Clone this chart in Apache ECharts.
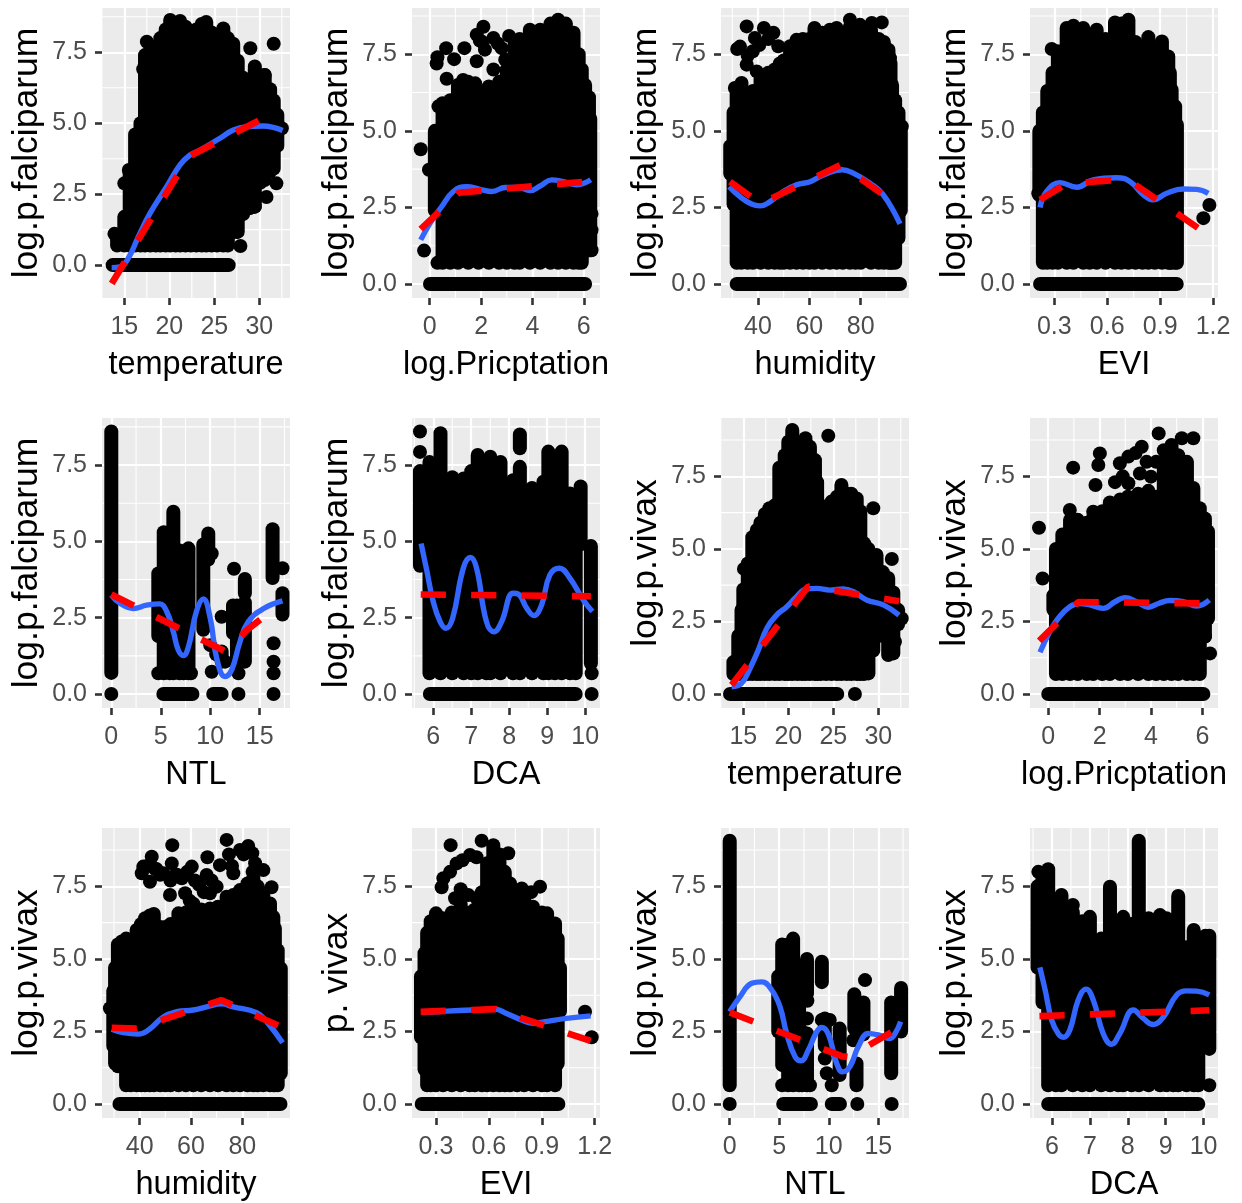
<!DOCTYPE html>
<html><head><meta charset="utf-8">
<script src="https://cdn.jsdelivr.net/npm/echarts@6/dist/echarts.min.js"></script>
<style>html,body{margin:0;background:#fff}#c{width:1242px;height:1203px}</style></head>
<body><div id="c"></div>
<script>
// ---- tick values
const yTicks=[0,2.5,5,7.5], yMinor=[1.25,3.75,6.25,8.75];
const tempTicks=[15,20,25,30], tempMinor=[12.5,17.5,22.5,27.5,32.5];
const rainTicks=[0,2,4,6], rainMinor=[1,3,5];
const humTicks=[40,60,80], humMinor=[30,50,70,90];
const eviTicks=[0.3,0.6,0.9,1.2], eviMinor=[0.45,0.75,1.05];
const ntlTicks=[0,5,10,15], ntlMinor=[2.5,7.5,12.5,17.5];
const dcaTicks=[6,7,8,9,10], dcaMinor=[5.5,6.5,7.5,8.5,9.5];

// ---- panel 1: temperature / falciparum
const p1Cloud=[[14.2,.69,1],[15,.69,1.7],[15.6,.69,3.3],[16.2,.69,4.6],[16.8,.69,5],[17.3,.69,7.4],[17.9,.69,7.6],[18.5,.69,7.7],[19,.69,8],[19.6,.69,8.3],[20.1,.69,8.64],[20.7,.69,8.5],[21.2,.69,8.6],[21.8,.69,8.4],[22.4,.69,8.2],[23,.69,8.3],[23.6,.69,8.5],[24.1,.69,8.57],[24.7,.69,8.2],[25.3,.69,8.1],[26,.69,8.34],[26.5,.69,8],[27.1,1.17,7.8],[27.6,1.17,7.2],[28.2,1.8,6.6],[28.9,2,6.4],[29.5,2.06,6.9],[30.1,2.9,6.5],[30.6,3,6.7],[31.2,3.3,6.2],[31.6,3.4,5.8],[32,4.2,5.3]];
const p1Points=[[13.9,1.1],[15.2,1.65],[15,2.88],[15.5,3.35],[17.1,6.9],[17.5,7.87],[27.9,.67],[27.5,1.17],[29,7.64],[31.6,7.8],[29.5,7],[30.6,6.7],[32.5,4.82],[31.9,4.2],[31.9,2.88],[30.8,2.4],[29.5,2.06]];
const p1Zero=[[13.7,26.6]];
const p1Blue=[[13.59,-.09],[14.52,-.06],[15.44,.24],[16.56,1],[17.85,1.82],[19.7,2.76],[21.19,3.53],[22.3,3.88],[23.41,4.05],[25.63,4.47],[27.11,4.76],[28.59,4.88],[30.44,4.9],[31.56,4.85],[32.59,4.74]];
const p1Red=[[13.6,-.65],[21.4,3.43],[22.3,3.85],[31,5.26]];

// ---- panel 2: log.Pricptation / falciparum
const p2Cloud=[[.2,2.4,5],[.5,.69,5.9],[.8,.69,6],[1.1,.69,6.5],[1.5,.69,6.6],[1.9,.69,6.3],[2.3,.69,6.45],[2.7,.69,6.6],[3,.69,7],[3.3,.69,7.8],[3.5,.69,8],[3.9,.69,8.3],[4.3,.69,8.3],[4.7,.69,8.5],[5,.69,8.63],[5.3,.69,8.5],[5.6,.69,8.2],[5.8,.69,7.5],[5.92,.69,7],[6.05,1.1,6.5],[6.2,1.1,6.1],[6.25,1.1,5.4]];
const p2Points=[[-.35,4.4],[-.03,3.73],[-.22,1.09],[6.3,1.1],[6.3,1.76],[6.3,2.29],[.34,5.8],[.66,6.7],[.64,7.7],[.27,7.2],[.3,7.4],[.95,7.34],[1.35,7.7],[1.3,6.66],[1.77,6.55],[1.83,7.27],[1.83,8.14],[1.95,7.95],[2.09,8.4],[2.15,7.65],[2.05,7.9],[2.48,8.03],[2.65,7.85],[2.8,7.7],[3.09,8.1],[2.94,7.32],[2.48,7],[.3,.69],[6.2,4.05]];
const p2Zero=[[.01,6.05]];
const p2Blue=[[-.35,1.44],[.01,1.98],[.47,2.53],[.92,3.02],[1.44,3.18],[1.96,3.09],[2.42,3.02],[2.94,3.15],[3.45,3.15],[3.91,3.05],[4.3,3.2],[4.75,3.4],[5.21,3.34],[5.73,3.24],[6.27,3.4]];
const p2Red=[[-.35,1.79],[1.14,2.98],[6.05,3.34]];

// ---- panel 3: humidity / falciparum
const p3Cloud=[[29.2,3.6,4.5],[30.5,2.6,5.6],[31.7,.69,6.2],[33.5,.69,6.5],[36,.69,6],[38,.69,6.3],[41,.69,6.7],[44,.69,6.9],[46.5,.69,7],[48.5,.69,7.2],[50,.69,7.3],[52.5,.69,7.76],[55,.69,7.97],[57.5,.69,8],[60,.69,8],[62,.69,8.36],[65,.69,8.2],[68,.69,8.3],[70.6,.69,8.36],[73,.69,8.2],[75.8,.69,8.4],[78,.69,8.2],[80,.69,8.4],[84,.69,8.3],[87,.69,8],[89,.69,7.9],[90.8,.69,7.65],[91.6,.69,7.2],[92.2,.69,6.5],[93.4,.69,6],[94.7,1.5,5.6],[95.6,2.4,5.1]];
const p3Points=[[35.6,8.41],[31.9,7.67],[33,7.75],[35.6,7.16],[36,7.45],[39.5,6.94],[38.8,8.03],[38,7.6],[40.5,7.8],[42.3,8.36],[44,8],[46,8.2],[47.9,7.76],[31,6.4],[33.6,6.56],[75.8,8.63],[79.7,8.46],[84.3,8.52],[88.2,8.54],[91.4,7.37],[96,5.14]];
const p3Zero=[[31.7,95.3]];
const p3Blue=[[28.8,3.18],[33,2.85],[37.5,2.61],[40.8,2.55],[44.7,2.69],[49.9,3.02],[55,3.24],[60.3,3.34],[65.5,3.56],[72.6,3.73],[77.1,3.62],[83.6,3.29],[88.8,2.91],[95.3,1.96]];
const p3Red=[[29.1,3.34],[41,2.62],[72.3,3.89],[89.2,2.89]];

// ---- panel 4: EVI / falciparum
const p4Cloud=[[.215,2.9,5],[.235,.69,5.6],[.26,.69,6.3],[.29,.69,6.9],[.32,.69,7.6],[.37,.69,8.36],[.408,.69,8.43],[.464,.69,8.36],[.5,.69,8],[.54,.69,8.3],[.59,.69,8],[.644,.69,8.54],[.68,.69,8.5],[.72,.69,8.63],[.76,.69,7.9],[.8,.69,7.6],[.833,.69,8.06],[.87,.69,7.5],[.91,.69,7.92],[.946,.69,7.43],[.955,.69,6.9],[.965,.69,6.34],[.985,.69,5.8],[.995,.69,5.2]];
const p4Points=[[1.145,2.15],[1.179,2.58],[.209,2.96],[.285,7.67]];
const p4Zero=[[.219,.994]];
const p4Blue=[[.219,2.5],[.256,3.02],[.332,3.31],[.427,3.16],[.52,3.4],[.654,3.47],[.73,3.34],[.805,2.91],[.86,2.75],[.937,2.96],[1.03,3.1],[1.107,3.09],[1.173,2.96]];
const p4Red=[[.219,2.75],[.37,3.28],[.62,3.38],[.752,3.27],[1.117,1.82]];

// ---- panel 5: NTL / falciparum
const p5Cloud=[[0,.69,8.6],[4.75,1.9,3.95],[5.3,.68,5.3],[5.9,.68,5],[6.27,.68,5.97],[6.9,.68,4.7],[7.3,.68,3],[7.8,.68,4.77],[9.3,2.1,4.9],[9.8,4.4,5.26],[11.15,1.06,1.39],[12.3,2,2.9],[12.7,1,2.9],[13.5,1.06,3],[13.5,3.3,3.77],[16.3,3.8,5.4],[17.3,2.6,3.3]];
const p5Points=[[4.75,.68],[8.05,.68],[10.15,4.6],[10.15,.73],[10,1.6],[10.6,1.3],[11.15,2.53],[11.5,1.06],[12.4,4.1],[12.85,.68],[17.3,4.12],[16.4,1.66],[16.4,1.06],[16.4,.68],[0,0],[12.85,0],[16.4,0]];
const p5Zero=[[5.26,8.2],[10.3,11.15]];
const p5Blue=[[0,3.24],[.88,2.97],[2.22,2.8],[3.57,2.91],[4.9,2.95],[5.6,2.7],[6.27,2.04],[6.77,1.44],[7.28,1.26],[7.8,1.55],[8.6,2.7],[9.3,3.11],[10,2.48],[10.65,1.17],[11.5,.57],[12.17,.79],[13,1.71],[13.85,2.37],[15.4,2.8],[17.3,3.05]];
const p5Red=[[0,3.26],[11.73,1.36],[13.62,2.07],[15.64,2.59]];

// ---- panel 6: DCA / falciparum
const p6Cloud=[[5.65,4.2,7.3],[5.9,.68,7.6],[6.19,.68,8.54],[6.5,.68,7.1],[6.8,.68,7.06],[7,.68,7.3],[7.17,.68,7.83],[7.4,.68,6.9],[7.5,.68,7.77],[7.77,.68,7.6],[8.1,.68,7],[8.28,.68,7.44],[8.28,8.05,8.5],[8.6,.68,6.75],[8.9,.68,6.95],[9.03,.68,7.94],[9.2,.68,7.7],[9.38,.68,7.94],[9.6,.68,6.57],[9.75,.68,6.2],[9.88,4.9,6.8],[10.15,1,4.85]];
const p6Points=[[5.65,8.6],[5.65,7.93],[10.17,.68],[10.17,0]];
const p6Zero=[[5.91,9.75]];
const p6Blue=[[5.68,4.93],[5.82,4.1],[6,3.02],[6.18,2.37],[6.33,2.15],[6.51,2.48],[6.79,4.12],[6.98,4.47],[7.14,4.12],[7.4,2.37],[7.6,2.04],[7.8,2.37],[8.1,3.3],[8.24,3.27],[8.46,2.81],[8.65,2.57],[8.85,2.91],[9.07,3.9],[9.32,4.12],[9.6,3.79],[9.95,3.08],[10.19,2.7]];
const p6Red=[[5.67,3.26],[10.15,3.2]];

// ---- panel 7: temperature / vivax
const p7Cloud=[[13.9,.69,1.1],[14.44,.69,2],[14.8,.69,2.9],[15,.69,3.6],[15.5,.69,4.5],[16,.69,5.4],[16.5,.69,5.65],[16.9,.69,5.9],[17.4,.69,6.2],[17.9,.69,6.4],[18.5,.69,6.5],[19,.69,7.8],[19.6,.69,8.23],[20,.69,8.69],[20.44,.69,9.1],[21,.69,8.6],[21.5,.69,8.6],[21.9,.69,8.81],[22.4,.69,8.52],[22.96,.69,8.06],[23.2,.69,7.3],[23.6,.69,6.5],[24.2,.69,6.3],[24.8,.69,6.63],[25.4,.69,6.8],[25.9,.69,7.2],[26.5,.69,6.9],[27,.69,6.9],[27.6,.69,6.74],[28,.69,6.3],[28.4,.69,5.2],[28.9,.71,5],[29.44,1.5,4.3],[29.8,2,4.79],[30.5,2,4.2],[31.1,1.34,4],[31.67,1.4,3.5],[32.2,2.4,2.9]];
const p7Points=[[24.44,8.9],[29.44,6.4],[28.5,5.13],[31.5,4.65],[32.6,2.6],[31.85,1.8],[15.07,4.31],[27.4,0]];
const p7Zero=[[13.52,25.44]];
const p7Blue=[[13.7,.25],[14.8,.37],[15.74,.88],[16.67,1.52],[17.6,2.26],[18.7,2.72],[19.8,3],[20.9,3.35],[22,3.62],[23.15,3.64],[24.6,3.58],[26.1,3.62],[27.2,3.53],[28.7,3.24],[30.56,3.07],[32.3,2.72]];
const p7Red=[[13.7,.31],[22.2,3.7],[32.3,3.2]];

// ---- panel 8: log.Pricptation / vivax
const p8Cloud=[[.2,2.9,3.4],[.3,.69,5],[.55,.69,5.5],[.85,.69,6],[1.15,.69,6],[1.5,.69,5.9],[1.75,.69,6.1],[2.1,.69,6.3],[2.4,.69,6.6],[2.8,.69,6.7],[3.1,.69,6.8],[3.5,.69,6.9],[3.9,.69,7],[4.2,.69,6.8],[4.5,.69,8],[4.8,.69,8.58],[5.06,.69,8.23],[5.4,.69,8],[5.65,.69,7.1],[5.9,.69,6.4],[6.1,1.98,6.05],[6.22,2.6,5.6]];
const p8Points=[[-.36,5.73],[-.22,3.98],[.97,7.8],[2.01,8.29],[1.95,7.89],[1.84,7.2],[.84,6.34],[1.75,6.28],[2.6,7.3],[3.12,7.26],[2.9,7.5],[2.79,7.95],[3.12,8.18],[3.4,8.3],[3.64,8.52],[3.57,7.6],[4,7.49],[3.83,8],[4.3,8.98],[4.2,8],[4.5,8.4],[5.2,8.81],[5.65,8.81],[6.3,1.4],[6.1,1.98]];
const p8Zero=[[0,6.04]];
const p8Blue=[[-.32,1.44],[.06,2.15],[.39,2.61],[.84,3.01],[1.23,3.12],[1.62,3.07],[2.14,2.95],[2.6,3.18],[2.99,3.32],[3.44,3.18],[3.9,2.99],[4.29,3.12],[4.74,3.22],[5.26,3.18],[5.78,3.03],[6.27,3.24]];
const p8Red=[[-.35,1.83],[1.17,3.17],[6.04,3.12]];

// ---- panel 9: humidity / vivax
const p9Cloud=[[29.7,2,3.9],[30.4,1.4,4.7],[31.5,1.3,5.5],[33,1.3,5.6],[34.7,.65,5.7],[36.5,.65,5.4],[38.8,.65,6],[40.5,.65,6.2],[42.1,.65,6.4],[44,.65,6.5],[45.5,.65,6.55],[48,.65,6.1],[50,.65,6.1],[52,.65,6.2],[55.1,.65,6.57],[58,.65,6.6],[60.9,.65,6.9],[64,.65,6.7],[67.4,.65,6.74],[70.5,.65,6.8],[73.9,.65,7.14],[76.5,.65,7.2],[79.1,.65,7.37],[82,.65,7.6],[84.3,.65,7.78],[86,.65,7.5],[88.2,.65,7.26],[90.8,.65,6.91],[92.1,.65,6.45],[92.7,.65,6.05],[93.8,.65,5.3],[95,1.06,4.67]];
const p9Points=[[52.7,8.92],[73.9,9.1],[74.8,8.6],[76,8.2],[82.3,8.89],[80.5,8.6],[66.4,8.5],[52.5,8.29],[44.7,8.52],[41.4,8.18],[40.8,7.95],[44,7.66],[43,8.2],[46,8.1],[48,7.9],[51.8,7.2],[52,7.7],[60.3,8.18],[58.5,8],[56.4,7.78],[54.5,7.9],[63.2,7.55],[61.5,7.7],[70,7.49],[66.1,7.89],[68,7.7],[71.3,8.23],[76.5,7.95],[79.1,8.75],[83.9,8.64],[85,8.3],[88.2,8.06],[91.4,7.47],[49.2,7.95],[57.7,7.26],[59.5,7],[65,7.3],[67.4,7.26],[28.4,3.3],[31,1.4],[46.5,8.1],[54,7.9],[84,8]];
const p9Zero=[[32.1,94.9]];
const p9Blue=[[29.1,2.58],[33.6,2.46],[39.5,2.41],[43.4,2.55],[49.2,3],[54.4,3.18],[60.9,3.24],[66.1,3.35],[71.9,3.45],[76.5,3.35],[85.6,3.15],[89.5,2.84],[95.7,2.11]];
const p9Red=[[29.1,2.63],[38.8,2.6],[71.9,3.58],[94.4,2.69]];

// ---- panel 10: EVI / vivax
const p10Cloud=[[.215,2.3,4.4],[.235,1.2,5.2],[.25,.65,5.9],[.27,.65,6.3],[.3,.65,6.57],[.34,.65,6.4],[.39,.65,6.6],[.44,.65,6.9],[.49,.65,6.6],[.52,.65,6.7],[.56,.65,7.3],[.59,.65,8.3],[.625,.65,8.92],[.66,.65,8.6],[.69,.65,8],[.72,.65,7.6],[.76,.65,7.2],[.8,.65,7.2],[.85,.65,6.8],[.9,.65,6.6],[.93,.65,6.57],[.975,.65,6.22],[.99,1.4,5.7],[1.003,3.2,4.7]];
const p10Points=[[.383,8.92],[.559,9.07],[.71,8.64],[.493,8.58],[.45,8.4],[.53,8.5],[.417,8.29],[.38,8],[.342,7.78],[.332,7.47],[.89,7.49],[.84,7.3],[.786,7.43],[1.145,3.18],[1.183,2.3],[.408,7.09],[.483,7.2],[.44,7.4],[.53,7.1]];
const p10Zero=[[.219,.994]];
const p10Blue=[[.219,3.15],[.36,3.2],[.502,3.24],[.635,3.27],[.7,3.12],[.795,2.87],[.852,2.78],[.918,2.84],[1.04,2.95],[1.177,3.04]];
const p10Red=[[.213,3.18],[.64,3.27],[.78,2.97],[1.177,2.18]];

// ---- panel 11: NTL / vivax
const p11Cloud=[[0,.65,9.07],[4.9,2.5,4.4],[5.3,1.34,5.5],[5.9,.65,5.5],[6.4,.65,5.7],[7,.65,4.4],[7.3,.65,2.5],[7.8,.65,2.43],[7.8,3.8,5],[9.3,4.2,4.9],[9.6,2,2.95],[11.1,1,2.6],[12.58,2.6,3.78],[13.5,2.4,3.5],[12.8,.65,1.4],[16.3,1.06,3.5],[16.9,2.6,3.4],[17.3,2.5,4]];
const p11Points=[[5.3,.65],[7.84,3.56],[7.8,2.95],[8.1,.65],[9.3,2.9],[10.1,2.9],[9.6,1.57],[9.8,1.06],[10.3,.65],[13.66,4.27],[12.48,2.2],[0,0],[12.88,0],[16.35,0]];
const p11Zero=[[5.4,8.2],[10.3,11.13]];
const p11Blue=[[0,3.18],[1.04,3.7],[2.22,4.16],[3.23,4.21],[4.24,3.93],[5.08,3.35],[5.75,2.43],[6.6,1.63],[7.2,1.49],[7.94,1.86],[8.78,2.49],[9.28,2.64],[9.96,2.41],[10.8,1.4],[11.4,1.11],[12.14,1.29],[12.98,1.98],[14,2.43],[15,2.38],[16.18,2.26],[16.7,2.43],[17.26,2.84]];
const p11Red=[[0,3.16],[11.3,1.65],[12,1.62],[16.7,2.55]];

// ---- panel 12: DCA / vivax
const p12Cloud=[[5.62,4.7,7.5],[5.75,3.5,7.8],[5.9,.65,8.09],[6.1,.65,6.9],[6.25,.65,7.2],[6.55,.65,6.6],[6.8,.65,6.3],[7,.65,6.45],[7.3,.65,5.7],[7.53,.65,7.49],[7.75,.65,6.2],[7.88,.65,6.45],[8.1,.65,6.2],[8.29,.65,9.07],[8.55,.65,6.4],[8.85,.65,6.51],[9.02,.65,6.4],[9.2,.65,6],[9.33,.65,7.17],[9.55,.65,5.4],[9.74,.65,6],[9.86,.65,5.5],[10.05,2,5.8],[10.15,1.9,5.8]];
const p12Points=[[5.64,8],[6.55,6.86],[10.15,.65]];
const p12Zero=[[5.9,9.86]];
const p12Blue=[[5.68,4.71],[5.82,3.93],[5.99,2.9],[6.17,2.41],[6.3,2.3],[6.47,2.55],[6.69,3.58],[6.9,3.96],[7.09,3.58],[7.35,2.43],[7.57,2.06],[7.79,2.43],[8.15,3.24],[8.41,2.95],[8.67,2.74],[8.94,3],[9.29,3.76],[9.55,3.9],[9.82,3.89],[10.15,3.76]];
const p12Red=[[5.67,3.03],[10.15,3.23]];

const F='log.p.falciparum', V='log.p.vivax';
const panels=[
 {n:'temperature',y:F,cx:0,ry:0,xr:[12.52,33.41],yr:[-1.16,9.06],t:tempTicks,m:tempMinor,d:0,c:p1Cloud,p:p1Points,z:p1Zero,b:p1Blue,r:p1Red},
 {n:'log.Pricptation',y:F,cx:1,ry:0,xr:[-.69,6.63],yr:[-.457,9.01],t:rainTicks,m:rainMinor,d:0,c:p2Cloud,p:p2Points,z:p2Zero,b:p2Blue,r:p2Red},
 {n:'humidity',y:F,cx:2,ry:0,xr:[25.6,98.8],yr:[-.457,9.01],t:humTicks,m:humMinor,d:0,c:p3Cloud,p:p3Points,z:p3Zero,b:p3Blue,r:p3Red},
 {n:'EVI',y:F,cx:3,ry:0,xr:[.162,1.228],yr:[-.457,9.01],t:eviTicks,m:eviMinor,d:1,c:p4Cloud,p:p4Points,z:p4Zero,b:p4Blue,r:p4Red},
 {n:'NTL',y:F,cx:0,ry:1,xr:[-.94,18.06],yr:[-.459,9.04],t:ntlTicks,m:ntlMinor,d:0,c:p5Cloud,p:p5Points,z:p5Zero,b:p5Blue,r:p5Red},
 {n:'DCA',y:F,cx:1,ry:1,xr:[5.44,10.39],yr:[-.459,9.04],t:dcaTicks,m:dcaMinor,d:0,c:p6Cloud,p:p6Points,z:p6Zero,b:p6Blue,r:p6Red},
 {n:'temperature',y:V,cx:2,ry:1,xr:[12.52,33.41],yr:[-.482,9.51],t:tempTicks,m:tempMinor,d:0,c:p7Cloud,p:p7Points,z:p7Zero,b:p7Blue,r:p7Red},
 {n:'log.Pricptation',y:V,cx:3,ry:1,xr:[-.71,6.61],yr:[-.482,9.51],t:rainTicks,m:rainMinor,d:0,c:p8Cloud,p:p8Points,z:p8Zero,b:p8Blue,r:p8Red},
 {n:'humidity',y:V,cx:0,ry:2,xr:[25.3,98.6],yr:[-.48,9.51],t:humTicks,m:humMinor,d:0,c:p9Cloud,p:p9Points,z:p9Zero,b:p9Blue,r:p9Red},
 {n:'EVI',y:'p. vivax',cx:1,ry:2,xr:[.164,1.23],yr:[-.48,9.51],t:eviTicks,m:eviMinor,d:1,c:p10Cloud,p:p10Points,z:p10Zero,b:p10Blue,r:p10Red},
 {n:'NTL',y:V,cx:2,ry:2,xr:[-.88,18.1],yr:[-.48,9.51],t:ntlTicks,m:ntlMinor,d:0,c:p11Cloud,p:p11Points,z:p11Zero,b:p11Blue,r:p11Red},
 {n:'DCA',y:V,cx:3,ry:2,xr:[5.42,10.38],yr:[-.48,9.51],t:dcaTicks,m:dcaMinor,d:0,c:p12Cloud,p:p12Points,z:p12Zero,b:p12Blue,r:p12Red}
];
const lefts=[102,412,721,1030], tops=[8,418,828];
const FONT='"Liberation Sans",Arial,sans-serif', DOT=14;
const grid=[],xAxis=[],yAxis=[],series=[];
function seg(a,b,w){return {type:'line',shape:{x1:a[0],y1:a[1],x2:b[0],y2:b[1]},style:{stroke:'#000',lineWidth:w,lineCap:'round'}};}
panels.forEach((P,i)=>{
  grid.push({left:lefts[P.cx],top:tops[P.ry],width:188,height:290,show:true,backgroundColor:'#EBEBEB',borderWidth:0});
  const tick={show:true,length:7,lineStyle:{color:'#333',width:2.6}};
  xAxis.push({type:'value',gridIndex:i,min:P.xr[0],max:P.xr[1],name:P.n,nameLocation:'middle',nameGap:51,
    nameTextStyle:{fontFamily:FONT,fontSize:32.5,color:'#000'},axisLine:{show:false,onZero:false},
    axisTick:Object.assign({customValues:P.t},tick),
    axisLabel:{customValues:P.t,margin:17,fontFamily:FONT,fontSize:25,color:'#4D4D4D',formatter:v=>v.toFixed(P.d)},
    splitLine:{show:true,lineStyle:{color:'#fff',width:2.2}}});
  yAxis.push({type:'value',gridIndex:i,min:P.yr[0],max:P.yr[1],name:P.y,nameLocation:'middle',nameGap:57,
    nameTextStyle:{fontFamily:FONT,fontSize:35.5,color:'#000'},axisLine:{show:false,onZero:false},
    axisTick:Object.assign({customValues:yTicks},tick),
    axisLabel:{customValues:yTicks,margin:15,padding:[3,0,0,0],fontFamily:FONT,fontSize:25,color:'#4D4D4D',formatter:v=>v.toFixed(1)},
    splitLine:{show:true,lineStyle:{color:'#fff',width:2.2}}});
  const common={xAxisIndex:i,yAxisIndex:i,silent:true,animation:false};
  // minor gridlines
  series.push(Object.assign({},common,{type:'custom',z:1,clip:true,
    data:P.m.map(v=>[v,P.yr[0],v,P.yr[1]]).concat(yMinor.map(v=>[P.xr[0],v,P.xr[1],v])),
    encode:{x:[0,2],y:[1,3]},
    renderItem:(p,api)=>{const a=api.coord([api.value(0),api.value(1)]),b=api.coord([api.value(2),api.value(3)]);
      return {type:'line',shape:{x1:a[0],y1:a[1],x2:b[0],y2:b[1]},style:{stroke:'#fff',lineWidth:1.1}};}}));
  // point cloud: vertical runs of overlapping dots
  series.push(Object.assign({},common,{type:'custom',z:2,clip:true,data:P.c,encode:{x:0,y:[1,2]},
    renderItem:(p,api)=>seg(api.coord([api.value(0),api.value(1)]),api.coord([api.value(0),api.value(2)]),DOT)}));
  // zero-count rows of dots
  series.push(Object.assign({},common,{type:'custom',z:2,clip:true,data:P.z,encode:{x:[0,1]},
    renderItem:(p,api)=>seg(api.coord([api.value(0),0]),api.coord([api.value(1),0]),DOT)}));
  series.push(Object.assign({},common,{type:'scatter',z:2,data:P.p,symbol:'circle',symbolSize:DOT,itemStyle:{color:'#000',opacity:1}}));
  series.push(Object.assign({},common,{type:'line',z:3,data:P.b,smooth:.45,showSymbol:false,lineStyle:{color:'#3366FF',width:5.4}}));
  series.push(Object.assign({},common,{type:'line',z:4,data:P.r,showSymbol:false,lineStyle:{color:'#FF0000',width:6.6,type:[25.2,25.2],cap:'butt'}}));
});
const chart=echarts.init(document.getElementById('c'),null,{renderer:'canvas'});
chart.setOption({animation:false,backgroundColor:'#fff',grid,xAxis,yAxis,series});
</script></body></html>
